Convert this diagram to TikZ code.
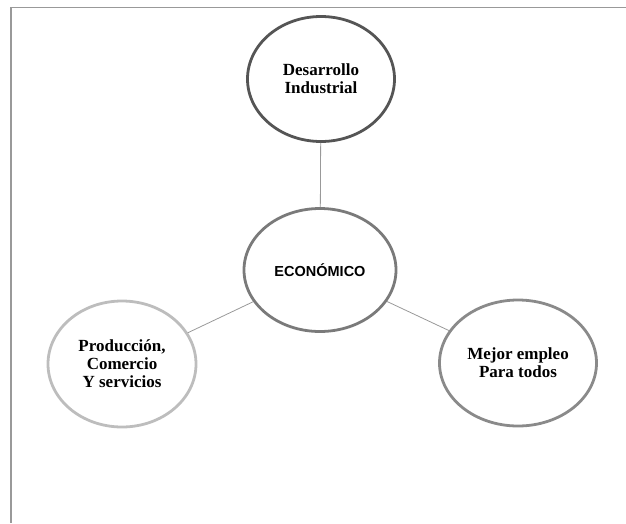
\documentclass[tikz,border=0pt]{standalone}
\usepackage{fontspec}
\setmainfont{Liberation Serif}
\setsansfont{Liberation Sans}
\usetikzlibrary{shapes.geometric}
\definecolor{cdark}{HTML}{555555}
\definecolor{cmid}{HTML}{7A7A7A}
\definecolor{clight}{HTML}{BDBDBD}
\definecolor{cright}{HTML}{8A8A8A}
\definecolor{cline}{HTML}{999999}
\tikzset{
  bubble/.style={ellipse, line width=2.8pt, align=center, inner sep=0pt,
    font=\fontsize{17}{18}\selectfont\bfseries},
  link/.style={draw=cline, line width=0.8pt},
  frame/.style={draw=cline, line width=1.2pt}
}
\begin{document}
\begin{tikzpicture}[x=1pt,y=-1pt]
\useasboundingbox (0,0) rectangle (626,523);
\coordinate (f1) at (626,7.5);
\coordinate (f2) at (11,7.5);
\coordinate (f3) at (11,523);
\draw[frame] (f1) -- (f2) -- (f3);
\node[bubble, draw=cdark, minimum width=147pt, minimum height=125pt] (top) at (321,79) {Desarrollo\\Industrial};
\node[bubble, draw=cmid, minimum width=152pt, minimum height=123pt,
  font=\sffamily\fontsize{14.5}{16}\selectfont\bfseries] (mid) at (320,270) {ECONÓMICO};
\node[bubble, draw=clight, minimum width=148pt, minimum height=126pt] (left) at (122,364) {Producción,\\ Comercio\\Y servicios};
\node[bubble, draw=cright, minimum width=157pt, minimum height=126pt] (right) at (518,363) {Mejor empleo\\Para todos};
\draw[link] (top) -- (mid);
\draw[link] (mid) -- (left);
\draw[link] (mid) -- (right);
\end{tikzpicture}
\end{document}
